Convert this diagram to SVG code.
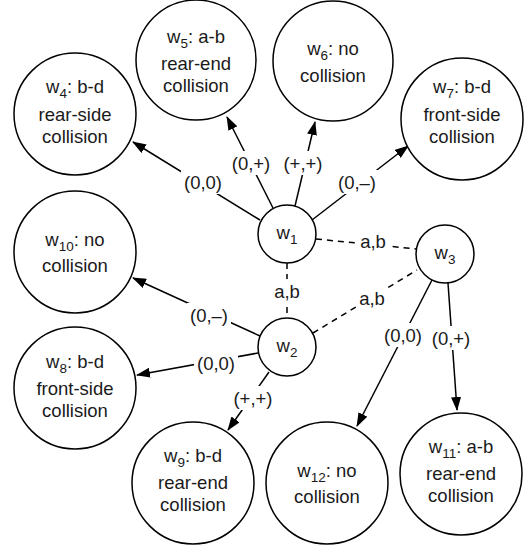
<svg xmlns="http://www.w3.org/2000/svg" width="529" height="546" viewBox="0 0 529 546">
<defs>
<marker id="arr" viewBox="0 0 14 10" refX="13" refY="5" markerWidth="14" markerHeight="10" markerUnits="userSpaceOnUse" orient="auto">
<path d="M0,0 L14,5 L0,10 z" fill="#000"/>
</marker>
</defs>
<style>
.n{fill:#fff;stroke:#000;stroke-width:1.5}
.t{font-family:"Liberation Sans",Arial,Helvetica,sans-serif;font-size:18.5px;fill:#1a1a1a;text-anchor:middle}
.s{font-size:13.5px}
.e{fill:none;stroke:#000;stroke-width:1.5}
.d{fill:none;stroke:#000;stroke-width:1.5;stroke-dasharray:6 5}
.bg{fill:#fff;stroke:none}
.l{font-family:"Liberation Sans",Arial,Helvetica,sans-serif;font-size:18.5px;fill:#1a1a1a;text-anchor:middle}
</style>
<rect width="529" height="546" fill="#fff"/>
<g id="connectors">
<line class="e" x1="260" y1="220" x2="133" y2="142" marker-end="url(#arr)"/>
<line class="e" x1="273" y1="208" x2="227" y2="117" marker-end="url(#arr)"/>
<line class="e" x1="295" y1="206" x2="315" y2="122" marker-end="url(#arr)"/>
<line class="e" x1="312" y1="220" x2="408" y2="146" marker-end="url(#arr)"/>
<line class="d" x1="316" y1="239" x2="417" y2="249"/>
<line class="d" x1="287" y1="263" x2="287" y2="318"/>
<line class="d" x1="313" y1="333" x2="417" y2="270"/>
<line class="e" x1="260" y1="336" x2="133" y2="278" marker-end="url(#arr)"/>
<line class="e" x1="258" y1="353" x2="137" y2="375" marker-end="url(#arr)"/>
<line class="e" x1="269" y1="372" x2="228" y2="430" marker-end="url(#arr)"/>
<line class="e" x1="432" y1="280" x2="357" y2="426" marker-end="url(#arr)"/>
<line class="e" x1="448" y1="283" x2="457" y2="410" marker-end="url(#arr)"/>
<rect class="bg" x="181" y="170" width="44" height="24"/>
<rect class="bg" x="229" y="151" width="44" height="24"/>
<rect class="bg" x="281" y="151" width="44" height="24"/>
<rect class="bg" x="335" y="170" width="44" height="24"/>
<rect class="bg" x="358" y="229" width="30" height="24"/>
<rect class="bg" x="272" y="279" width="30" height="24"/>
<rect class="bg" x="357" y="286" width="30" height="24"/>
<rect class="bg" x="187" y="303" width="44" height="24"/>
<rect class="bg" x="194" y="351" width="44" height="24"/>
<rect class="bg" x="231" y="386" width="44" height="24"/>
<rect class="bg" x="381" y="323" width="44" height="24"/>
<rect class="bg" x="429" y="326" width="44" height="24"/>
<text class="l" x="203" y="188.5">(0,0)</text>
<text class="l" x="251" y="169.5">(0,+)</text>
<text class="l" x="303" y="169.5">(+,+)</text>
<text class="l" x="357" y="188.5">(0,–)</text>
<text class="l" x="373" y="247.5">a,b</text>
<text class="l" x="287" y="297.5">a,b</text>
<text class="l" x="372" y="304.5">a,b</text>
<text class="l" x="209" y="321.5">(0,–)</text>
<text class="l" x="216" y="369.5">(0,0)</text>
<text class="l" x="253" y="404.5">(+,+)</text>
<text class="l" x="403" y="341.5">(0,0)</text>
<text class="l" x="451" y="344.5">(0,+)</text>
</g>
<g id="w1"><circle class="n" cx="287" cy="234" r="29"/><text class="t" x="287" y="239">w<tspan class="s" dy="5">1</tspan></text></g>
<g id="w2"><circle class="n" cx="287" cy="347" r="29"/><text class="t" x="287" y="352">w<tspan class="s" dy="5">2</tspan></text></g>
<g id="w3"><circle class="n" cx="445" cy="254" r="29"/><text class="t" x="445" y="259">w<tspan class="s" dy="5">3</tspan></text></g>
<g id="w4"><circle class="n" cx="75" cy="114" r="61"/><text class="t" x="75" y="93">w<tspan class="s" dy="5">4</tspan><tspan dy="-5">: b-d</tspan></text><text class="t" x="75" y="121">rear-side</text><text class="t" x="75" y="143">collision</text></g>
<g id="w5"><circle class="n" cx="196" cy="60" r="60"/><text class="t" x="196" y="43">w<tspan class="s" dy="5">5</tspan><tspan dy="-5">: a-b</tspan></text><text class="t" x="196" y="70">rear-end</text><text class="t" x="196" y="92">collision</text></g>
<g id="w6"><circle class="n" cx="333" cy="61" r="60"/><text class="t" x="333" y="55">w<tspan class="s" dy="5">6</tspan><tspan dy="-5">: no</tspan></text><text class="t" x="333" y="82">collision</text></g>
<g id="w7"><circle class="n" cx="462" cy="119" r="61"/><text class="t" x="462" y="93">w<tspan class="s" dy="5">7</tspan><tspan dy="-5">: b-d</tspan></text><text class="t" x="462" y="121">front-side</text><text class="t" x="462" y="143">collision</text></g>
<g id="w10"><circle class="n" cx="75" cy="252" r="61"/><text class="t" x="75" y="246">w<tspan class="s" dy="5">10</tspan><tspan dy="-5">: no</tspan></text><text class="t" x="75" y="272">collision</text></g>
<g id="w8"><circle class="n" cx="75" cy="388" r="61"/><text class="t" x="75" y="368">w<tspan class="s" dy="5">8</tspan><tspan dy="-5">: b-d</tspan></text><text class="t" x="75" y="395">front-side</text><text class="t" x="75" y="417">collision</text></g>
<g id="w9"><circle class="n" cx="193" cy="483" r="61"/><text class="t" x="193" y="462">w<tspan class="s" dy="5">9</tspan><tspan dy="-5">: b-d</tspan></text><text class="t" x="193" y="489">rear-end</text><text class="t" x="193" y="511">collision</text></g>
<g id="w12"><circle class="n" cx="327" cy="483" r="61"/><text class="t" x="327" y="477">w<tspan class="s" dy="5">12</tspan><tspan dy="-5">: no</tspan></text><text class="t" x="327" y="503">collision</text></g>
<g id="w11"><circle class="n" cx="461" cy="474" r="61"/><text class="t" x="461" y="453">w<tspan class="s" dy="5">11</tspan><tspan dy="-5">: a-b</tspan></text><text class="t" x="461" y="480">rear-end</text><text class="t" x="461" y="502">collision</text></g>
</svg>
